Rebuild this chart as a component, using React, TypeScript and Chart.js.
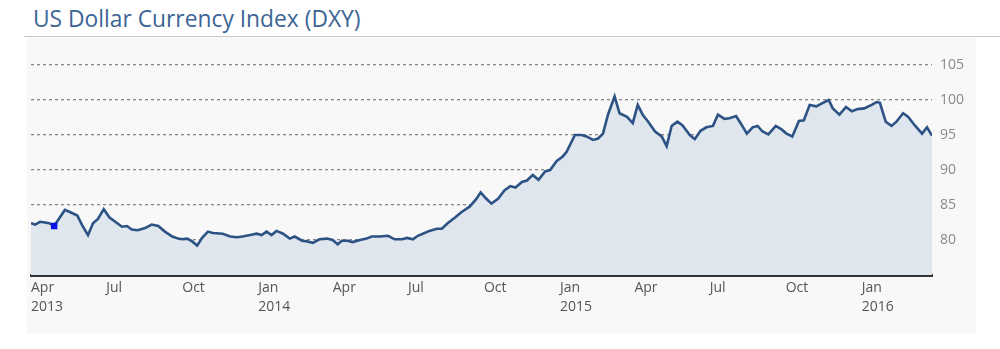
import React, { useEffect, useRef } from "react";
import { Chart, registerables } from "chart.js";

Chart.register(...registerables);

const TITLE = "US Dollar Currency Index (DXY)";

const dates = [
  "2013-04-01","2013-04-06","2013-04-12","2013-04-18","2013-04-23","2013-04-29","2013-05-04","2013-05-12","2013-05-18","2013-05-27",
  "2013-06-02","2013-06-09","2013-06-15","2013-06-21","2013-06-28","2013-07-05","2013-07-12","2013-07-20","2013-07-26","2013-08-01",
  "2013-08-08","2013-08-17","2013-08-25","2013-09-02","2013-09-10","2013-09-19","2013-09-26","2013-10-01","2013-10-07","2013-10-13",
  "2013-10-19","2013-10-25","2013-11-01","2013-11-07","2013-11-19","2013-11-28","2013-12-06","2013-12-13","2013-12-22","2013-12-30",
  "2014-01-05","2014-01-11","2014-01-17","2014-01-23","2014-01-31","2014-02-08","2014-02-14","2014-02-23","2014-03-01","2014-03-08",
  "2014-03-16","2014-03-25","2014-04-01","2014-04-07","2014-04-12","2014-04-19","2014-04-25","2014-05-04","2014-05-12","2014-05-18",
  "2014-05-28","2014-06-07","2014-06-15","2014-06-24","2014-06-30","2014-07-07","2014-07-13","2014-07-19","2014-07-27","2014-08-05",
  "2014-08-11","2014-08-18","2014-08-27","2014-09-04","2014-09-14","2014-09-22","2014-09-27","2014-10-03","2014-10-10","2014-10-18",
  "2014-10-26","2014-11-02","2014-11-08","2014-11-16","2014-11-22","2014-11-29","2014-12-06","2014-12-14","2014-12-20","2014-12-28",
  "2015-01-04","2015-01-09","2015-01-19","2015-01-27","2015-02-02","2015-02-10","2015-02-16","2015-02-22","2015-02-28","2015-03-08",
  "2015-03-14","2015-03-23","2015-03-30","2015-04-05","2015-04-11","2015-04-17","2015-04-26","2015-05-04","2015-05-10","2015-05-16",
  "2015-05-23","2015-05-29","2015-06-07","2015-06-13","2015-06-20","2015-06-27","2015-07-05","2015-07-11","2015-07-19","2015-07-25",
  "2015-08-02","2015-08-09","2015-08-15","2015-08-22","2015-08-28","2015-09-03","2015-09-10","2015-09-19","2015-09-26","2015-10-02",
  "2015-10-09","2015-10-17","2015-10-23","2015-10-30","2015-11-07","2015-11-15","2015-11-22","2015-11-27","2015-12-05","2015-12-13",
  "2015-12-20","2015-12-27","2016-01-04","2016-01-13","2016-01-19","2016-01-23","2016-01-30","2016-02-06","2016-02-12","2016-02-20",
  "2016-02-26","2016-03-05","2016-03-14","2016-03-20","2016-03-26"
];

const dxy = [
  82.4,82.2,82.6,82.5,82.4,82.0,82.9,84.3,84.0,83.5,
  82.1,80.7,82.4,83.0,84.4,83.2,82.6,81.9,82.0,81.5,
  81.4,81.7,82.2,82.0,81.2,80.5,80.2,80.1,80.2,79.8,
  79.2,80.3,81.2,81.0,80.9,80.5,80.4,80.5,80.7,80.9,
  80.7,81.2,80.7,81.3,80.9,80.2,80.5,79.9,79.8,79.6,
  80.1,80.2,80.0,79.4,79.9,79.9,79.7,80.0,80.2,80.5,
  80.5,80.6,80.1,80.1,80.3,80.1,80.6,80.9,81.3,81.6,
  81.6,82.4,83.2,84.0,84.8,85.9,86.8,86.0,85.2,85.9,
  87.1,87.7,87.5,88.3,88.5,89.3,88.6,89.8,90.0,91.3,
  91.9,92.6,95.0,95.0,94.8,94.3,94.5,95.2,97.9,100.5,
  98.1,97.6,96.7,99.3,97.9,97.0,95.5,94.8,93.4,96.3,
  96.9,96.4,95.0,94.4,95.6,96.1,96.3,97.9,97.3,97.4,
  97.7,96.4,95.2,96.1,96.3,95.5,95.1,96.3,95.8,95.2,
  94.8,97.0,97.1,99.3,99.1,99.6,100.0,98.8,97.9,99.0,
  98.4,98.7,98.8,99.3,99.7,99.6,96.9,96.3,96.9,98.1,
  97.6,96.4,95.2,96.1,94.9
];

const markerDate = "2013-04-29";
const markerValue = 82.0;

const xTickDates = [
  "2013-04-01","2013-07-01","2013-10-01","2014-01-01","2014-04-01","2014-07-01",
  "2014-10-01","2015-01-01","2015-04-01","2015-07-01","2015-10-01","2016-01-01"
];
const xTickLabels: (string | string[])[] = [
  ["Apr","2013"],"Jul","Oct",["Jan","2014"],"Apr","Jul",
  "Oct",["Jan","2015"],"Apr","Jul","Oct",["Jan","2016"]
];
const yTicks = [75, 80, 85, 90, 95, 100, 105];

const T0 = Date.UTC(2013, 3, 1);
function dayOf(s: string): number {
  const [y, m, d] = s.split("-").map(Number);
  return (Date.UTC(y, m - 1, d) - T0) / 86400000;
}

export default function App() {
  const ref = useRef<HTMLCanvasElement | null>(null);
  useEffect(() => {
    document.body.style.margin = "0";
    const canvas = ref.current;
    if (!canvas) return;
    const chart = new Chart(canvas, {
      type: "line",
      data: {
        datasets: [
          {
            data: [{ x: dayOf(markerDate), y: markerValue }],
            showLine: false,
            pointStyle: "rect",
            pointRadius: 4.6,
            pointBackgroundColor: "#0a12e8",
            pointBorderColor: "#0a12e8",
            pointBorderWidth: 0,
            order: 0,
          },
          {
            data: dates.map((d, i) => ({ x: dayOf(d), y: dxy[i] })),
            borderColor: "#2d5284",
            borderWidth: 2.6,
            backgroundColor: "#dfe6ee",
            fill: "start",
            pointRadius: 0,
            tension: 0,
            order: 1,
          },
        ],
      },
      options: {
        animation: false,
        responsive: false,
        maintainAspectRatio: false,
        layout: { padding: { left: 31, top: 44, right: 0, bottom: 0 } },
        plugins: { legend: { display: false }, tooltip: { enabled: false }, title: { display: false } },
        scales: {
          x: {
            type: "linear",
            min: 0,
            max: dayOf(dates[dates.length - 1]),
            grid: { display: false, drawTicks: false },
            border: { display: true, color: "#353535", width: 3 },
            afterBuildTicks: (scale: any) => {
              scale.ticks = xTickDates.map((d) => ({ value: dayOf(d) }));
            },
            afterFit: (scale: any) => {
              scale.height = 74;
            },
            ticks: {
              autoSkip: false,
              maxRotation: 0,
              minRotation: 0,
              align: "start",
              padding: 3,
              color: "#555555",
              font: { family: "'Open Sans', sans-serif", size: 14, lineHeight: 1.36 },
              callback: (_v: any, i: number) => xTickLabels[i],
            },
          },
          y: {
            position: "right",
            min: 75,
            max: 108,
            afterBuildTicks: (scale: any) => {
              scale.ticks = yTicks.map((v) => ({ value: v }));
            },
            afterFit: (scale: any) => {
              scale.width = 68;
            },
            grid: {
              drawTicks: false,
              color: (ctx: any) => (ctx.tick && ctx.tick.value === 75 ? "rgba(0,0,0,0)" : "#888888"),
              lineWidth: 1.3,
            },
            border: { display: false, dash: [3, 3] },
            ticks: {
              padding: 8,
              color: "#8a8a8a",
              font: { family: "'Open Sans', sans-serif", size: 14 },
              callback: (v: any) => (v === 75 ? "" : String(v)),
            },
          },
        },
      },
    });
    return () => chart.destroy();
  }, []);

  return (
    <div style={{ position: "relative", width: 1000, height: 349, background: "#ffffff", overflow: "hidden" }}>
      <div
        style={{
          position: "absolute",
          left: 33,
          top: 8,
          fontFamily: "'Open Sans', sans-serif",
          fontSize: 22.8,
          lineHeight: "22.8px",
          color: "#3c6595",
          whiteSpace: "nowrap",
        }}
      >
        {TITLE}
      </div>
      <div style={{ position: "absolute", left: 24, top: 36, width: 976, height: 1, background: "#c8c8c8" }} />
      <div style={{ position: "absolute", left: 27, top: 37, width: 949, height: 297, background: "#f8f8f8" }} />
      <canvas ref={ref} width={1000} height={349} style={{ position: "absolute", left: 0, top: 0, width: 1000, height: 349 }} />
    </div>
  );
}
